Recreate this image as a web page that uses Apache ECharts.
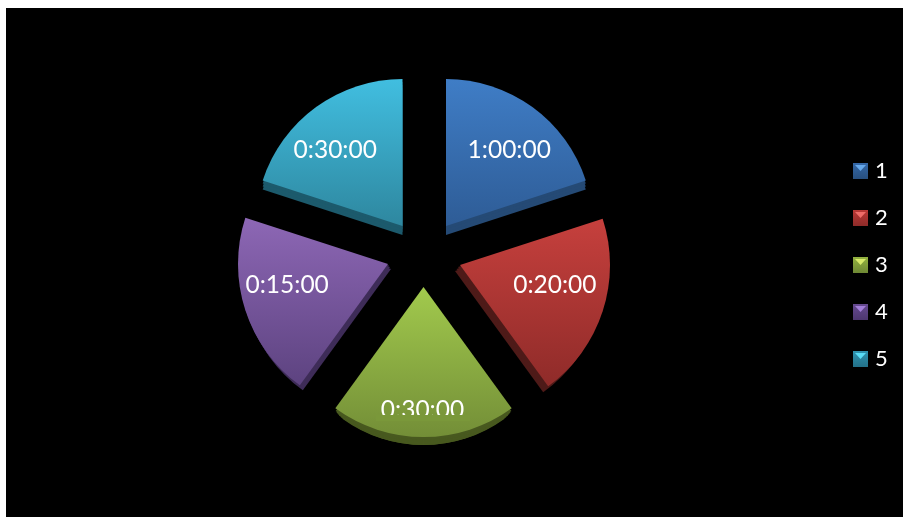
<!DOCTYPE html>
<html>
<head>
<meta charset="utf-8">
<style>
html,body{margin:0;padding:0;background:#fff;overflow:hidden}
#chart{position:absolute;left:6px;top:8px;width:897px;height:509px}
</style>
<script src="https://cdn.jsdelivr.net/npm/echarts@6/dist/echarts.min.js"></script>
</head>
<body>
<div id="chart"></div>
<script>
// Data
const categories = ['1', '2', '3', '4', '5'];
const sliceValues = [1, 1, 1, 1, 1];
const timeLabels = ['1:00:00', '0:20:00', '0:30:00', '0:15:00', '0:30:00'];

// Colours
const topColors = [['#3f7dc6', '#2e5c96'], ['#c6403d', '#8f2b29'], ['#a2ca4d', '#738e37'], ['#8d67b5', '#5d4380'], ['#41bee0', '#2e879f']];
const sideColors = ['#254a75', '#4e1a18', '#48591f', '#3e2c58', '#1c5a6c'];
const legendColors = [['#3468a8', '#28507f'], ['#bb3936', '#8e2b29'], ['#93b23f', '#6e8834'], ['#664a90', '#4d3770'], ['#2f93b0', '#237188']];
const legendGlints = ['#66a8ea', '#ee6c68', '#d8ea6a', '#a27ed8', '#58dcf5'];

// Layout (page pixels; the chart box starts at 6,8)
const ox = 6, oy = 8;
const apexes = [[446, 226], [460, 265], [423.5, 287], [388, 264], [402.5, 226]];
const radii = [147, 150, 150, 150, 147];
const labelCentres = [[507.5, 152.5], [552, 284], [422.5, 407], [290, 284], [337, 152.5]];
// Side wall of each slice: layers of [shift x, shift y, radius reduction]
const wallLayers = [
  [[0, 9, 0], [0, 6, 0], [0, 3, 0]],
  [[-5, 6, 0], [-3.5, 4, 0], [-2, 2, 0]],
  [[0, 24, 16], [0, 20, 12], [0, 16, 9], [0, 12, 6], [0, 9, 4], [0, 6, 2], [0, 3, 0.5]],
  [[3, 5, 0], [2, 3, 0], [1, 1.5, 0]],
  [[0, 9, 0], [0, 6, 0], [0, 3, 0]]
];

const total = sliceValues.reduce((a, b) => a + b, 0);
function midAngle(i) {
  const before = sliceValues.slice(0, i).reduce((a, b) => a + b, 0);
  return (before + sliceValues[i] / 2) / total * Math.PI * 2;
}

function pie(i, shift, itemStyle, label, z) {
  return {
    type: 'pie',
    silent: true,
    animation: false,
    z: z,
    startAngle: 90,
    clockwise: true,
    avoidLabelOverlap: false,
    radius: [0, radii[i] - shift[2]],
    center: [apexes[i][0] - ox + shift[0], apexes[i][1] - oy + shift[1]],
    labelLine: { show: false },
    label: { show: false },
    emphasis: { disabled: true },
    data: categories.map((name, j) => j === i
      ? { name, value: sliceValues[j], itemStyle, label }
      : { name, value: sliceValues[j], itemStyle: { color: 'rgba(0,0,0,0)' }, label: { show: false } })
  };
}

const series = [];
categories.forEach((c, i) => {
  wallLayers[i].forEach(layer => {
    series.push(pie(i, layer, { color: sideColors[i] }, { show: false }, 1));
  });
});
categories.forEach((c, i) => {
  const a = midAngle(i);
  const lx = apexes[i][0] + Math.sin(a) * radii[i] / 2;
  const ly = apexes[i][1] - Math.cos(a) * radii[i] / 2;
  series.push(pie(i, [0, 0, 0], {
    color: new echarts.graphic.LinearGradient(0, 0, 0, 1, [
      { offset: 0, color: topColors[i][0] },
      { offset: 1, color: topColors[i][1] }
    ])
  }, {
    show: true,
    position: 'inside',
    formatter: timeLabels[i],
    color: '#ffffff',
    fontFamily: 'Lato',
    fontSize: 24.5,
    offset: [labelCentres[i][0] - lx, labelCentres[i][1] - ly]
  }, 2));
});

const legendLeft = 853, iconTop = 163, legendPitch = 47, legendRowHeight = 22;
const glints = categories.map((c, i) => ({
  type: 'polygon',
  silent: true,
  z: 100,
  shape: { points: [
    [legendLeft + 2 - ox, iconTop + 2 + i * legendPitch - oy],
    [legendLeft + 13 - ox, iconTop + 2 + i * legendPitch - oy],
    [legendLeft + 7.5 - ox, iconTop + 8 + i * legendPitch - oy]
  ] },
  style: { fill: legendGlints[i] }
}));

const chart = echarts.init(document.getElementById('chart'), null, { renderer: 'canvas' });
chart.setOption({
  backgroundColor: '#000000',
  animation: false,
  tooltip: { show: false },
  legend: {
    show: true,
    orient: 'vertical',
    left: legendLeft - ox,
    top: iconTop - 3 - oy,
    padding: 0,
    itemWidth: 15,
    itemHeight: 16,
    itemGap: legendPitch - legendRowHeight,
    selectedMode: false,
    textStyle: { color: '#ffffff', fontFamily: 'Lato', fontSize: 22, lineHeight: 16, padding: [0, 0, 0, 2] },
    data: categories.map((name, i) => ({
      name,
      icon: 'rect',
      itemStyle: {
        color: new echarts.graphic.LinearGradient(0, 0, 0, 1, [
          { offset: 0, color: legendColors[i][0] },
          { offset: 1, color: legendColors[i][1] }
        ])
      }
    }))
  },
  series,
  graphic: glints.concat([{
    // the reference cuts off the foot of the third slice's label
    type: 'rect',
    silent: true,
    z: 100,
    shape: { x: 376 - ox, y: 415 - oy, width: 94, height: 6 },
    style: { fill: '#7a983a' }
  }])
});
</script>
</body>
</html>
